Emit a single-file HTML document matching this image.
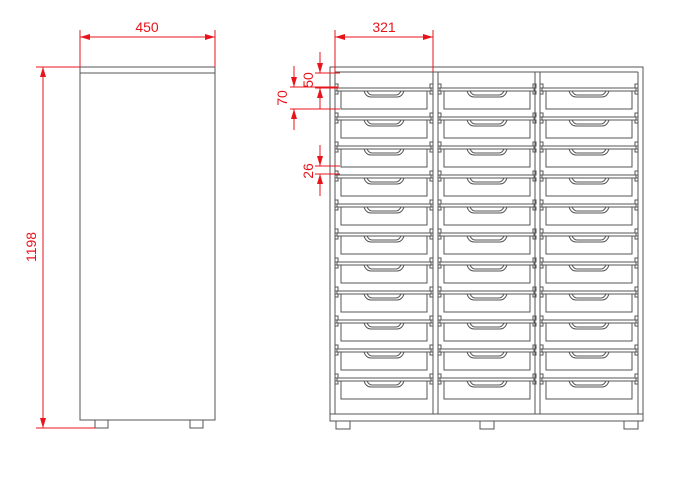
<!DOCTYPE html>
<html><head><style>
html,body{margin:0;padding:0;background:#fff;}
svg{display:block;}
text{font-family:"Liberation Sans",sans-serif;fill:#e8141b;font-size:14px;}
</style></head><body>
<svg width="682" height="482" viewBox="0 0 682 482" xmlns="http://www.w3.org/2000/svg">
<defs>
<g id="tray" fill="none" stroke="#555" stroke-width="1">
  <rect x="0" y="0" width="94" height="3" fill="#fff"/>
  <rect x="-2" y="-4" width="3" height="4"/>
  <rect x="93" y="-4" width="3" height="4"/>
  <rect x="-2" y="3" width="3" height="3"/>
  <rect x="93" y="3" width="3" height="3"/>
  <path d="M4 3 V21 H90 V3"/>
  <path d="M27 3 q2 6 7 6 h26 q5 0 7 -6"/>
  <path d="M30 3 q2 4 5 4 h24 q3 0 5 -4"/>
</g>
<g id="col">
  <use href="#tray" y="88"/><use href="#tray" y="117"/><use href="#tray" y="146"/>
  <use href="#tray" y="175"/><use href="#tray" y="204"/><use href="#tray" y="233"/>
  <use href="#tray" y="262"/><use href="#tray" y="291"/><use href="#tray" y="320"/>
  <use href="#tray" y="349"/><use href="#tray" y="378"/>
</g>
<marker id="ar" markerWidth="10" markerHeight="6" refX="10" refY="3" orient="auto-start-reverse" markerUnits="userSpaceOnUse">
  <path d="M0 0 L10 3 L0 6z" fill="#e8141b"/>
</marker>
</defs>

<g fill="none" stroke="#555" stroke-width="1">
  <rect x="80" y="67" width="135" height="353"/>
  <line x1="80" y1="73" x2="215" y2="73"/>
  <rect x="95" y="420" width="13" height="8"/>
  <rect x="190" y="420" width="13" height="8"/>
</g>

<g fill="none" stroke="#555" stroke-width="1">
  <rect x="330" y="67" width="313" height="354"/>
  <line x1="330" y1="414" x2="643" y2="414"/>
  <line x1="335" y1="72" x2="638" y2="72"/>
  <line x1="335" y1="72" x2="335" y2="414"/>
  <line x1="638" y1="72" x2="638" y2="414"/>
  <line x1="433" y1="72" x2="433" y2="414"/>
  <line x1="438" y1="72" x2="438" y2="414"/>
  <line x1="535" y1="72" x2="535" y2="414"/>
  <line x1="540" y1="72" x2="540" y2="414"/>
  <rect x="336" y="421" width="14" height="8"/>
  <rect x="480" y="421" width="14" height="8"/>
  <rect x="624" y="421" width="14" height="8"/>
</g>
<use href="#col" x="337"/>
<use href="#col" x="440"/>
<use href="#col" x="542"/>

<g stroke="#e8141b" stroke-width="1" fill="none">
  <line x1="80" y1="30" x2="80" y2="67"/><line x1="215" y1="30" x2="215" y2="67"/>
  <line x1="80" y1="37" x2="215" y2="37" marker-start="url(#ar)" marker-end="url(#ar)"/>
  <line x1="36" y1="67" x2="80" y2="67"/><line x1="36" y1="428" x2="95" y2="428"/>
  <line x1="43" y1="67" x2="43" y2="428" marker-start="url(#ar)" marker-end="url(#ar)"/>
  <line x1="335" y1="30" x2="335" y2="72"/><line x1="433" y1="30" x2="433" y2="72"/>
  <line x1="335" y1="37" x2="433" y2="37" marker-start="url(#ar)" marker-end="url(#ar)"/>
  <line x1="315" y1="73" x2="340" y2="73"/><line x1="315" y1="88" x2="340" y2="88"/>
  <line x1="320" y1="52" x2="320" y2="73" marker-end="url(#ar)"/>
  <line x1="320" y1="109" x2="320" y2="88" marker-end="url(#ar)"/>
  <line x1="290" y1="87" x2="338" y2="87"/><line x1="290" y1="109" x2="340" y2="109"/>
  <line x1="294" y1="66" x2="294" y2="87" marker-end="url(#ar)"/>
  <line x1="294" y1="130" x2="294" y2="109" marker-end="url(#ar)"/>
  <line x1="315" y1="166" x2="340" y2="166"/><line x1="315" y1="174" x2="340" y2="174"/>
  <line x1="320" y1="145" x2="320" y2="166" marker-end="url(#ar)"/>
  <line x1="320" y1="196" x2="320" y2="174" marker-end="url(#ar)"/>
</g>
<text x="147" y="32" text-anchor="middle">450</text>
<text x="384" y="32" text-anchor="middle">321</text>
<text transform="translate(36,247) rotate(-90)" text-anchor="middle">1198</text>
<text transform="translate(313,80) rotate(-90)" text-anchor="middle">50</text>
<text transform="translate(287,98) rotate(-90)" text-anchor="middle">70</text>
<text transform="translate(313,171) rotate(-90)" text-anchor="middle">26</text>
</svg>
</body></html>
